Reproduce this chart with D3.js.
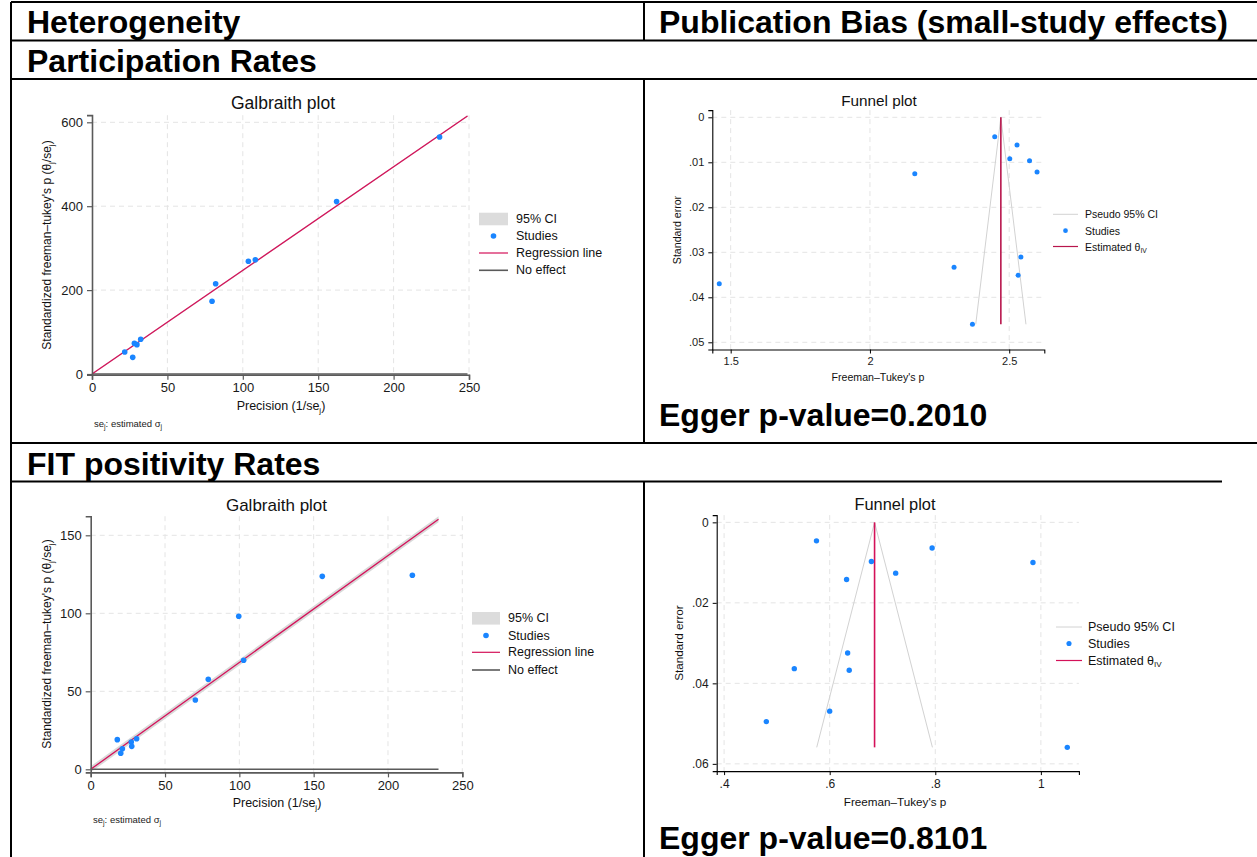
<!DOCTYPE html>
<html><head><meta charset="utf-8">
<script src="https://cdn.jsdelivr.net/npm/d3@7"></script>
<style>
body{margin:0;background:#fff;}
svg text{font-family:"Liberation Sans",Arial,Helvetica,sans-serif;}
</style>
</head><body>
<svg id="c" width="1257" height="857"></svg>
<script>
// ---------------- DATA ----------------
const headerLabels = ["Heterogeneity", "Publication Bias (small-study effects)"];
const sectionLabels = ["Participation Rates", "FIT positivity Rates"];
const eggerLabels = ["Egger p-value=0.2010", "Egger p-value=0.8101"];

// Participation rates – Galbraith plot (precision, standardized effect)
const partPrecision = [230.5, 162.2, 108.3, 103.7, 82.0, 79.6, 32.3, 29.8, 28.1, 27.0, 21.7];
const partStdEffect = [565.0, 411.0, 272.5, 268.6, 215.0, 173.3, 82.7, 70.0, 73.1, 39.7, 52.4];
const partSlope = 2.47;          // regression line slope (theta IV)
const partLineEnd = 249;         // precision where regression / no-effect lines stop

// Participation rates – Funnel plot (Freeman–Tukey p, standard error)
const partFT = [2.448, 2.528, 2.502, 2.573, 2.600, 2.161, 2.302, 2.542, 2.532, 1.459, 2.368];
const partSE = [0.00431, 0.00616, 0.0092, 0.00964, 0.01216, 0.01253, 0.0333, 0.03104, 0.0351, 0.0370, 0.0460];
const partThetaIV = 2.470;
const partSEmax = 0.0460;

// FIT positivity – Galbraith plot
const fitPrecision = [216.4, 155.8, 102.9, 99.6, 79.1, 70.4, 30.9, 27.3, 27.6, 21.3, 20.2, 17.9];
const fitStdEffect = [124.4, 123.7, 69.9, 98.1, 57.7, 44.4, 19.6, 17.5, 14.7, 13.2, 10.3, 19.0];
const fitSlope = 0.685;
const fitLineEnd = 234;

// FIT positivity – Funnel plot
const fitFT = [0.575, 0.794, 0.679, 0.985, 0.725, 0.632, 0.634, 0.533, 0.637, 0.60, 0.48, 1.05];
const fitSE = [0.00460, 0.00638, 0.00972, 0.00998, 0.01262, 0.01420, 0.03245, 0.03635, 0.03675, 0.0469, 0.0495, 0.0559];
const fitThetaIV = 0.685;
const fitSEmax = 0.0559;

// CI half-width (standardized units) around Galbraith regression line
const galbraithCI = 1.96;
const pseudoZ = 1.96;

// Tick values / labels
const galXTicks = [0, 50, 100, 150, 200, 250];
const partGalYTicks = [0, 200, 400, 600];
const fitGalYTicks = [0, 50, 100, 150];
const partFunXTicks = [1.5, 2, 2.5];
const partFunXLabels = ["1.5", "2", "2.5"];
const partFunYTicks = [0, 0.01, 0.02, 0.03, 0.04, 0.05];
const partFunYLabels = ["0", ".01", ".02", ".03", ".04", ".05"];
const fitFunXTicks = [0.4, 0.6, 0.8, 1];
const fitFunXLabels = [".4", ".6", ".8", "1"];
const fitFunYTicks = [0, 0.02, 0.04, 0.06];
const fitFunYLabels = ["0", ".02", ".04", ".06"];

const galLegendLabels = ["95% CI", "Studies", "Regression line", "No effect"];
const funLegendLabels = ["Pseudo 95% CI", "Studies", "Estimated θ"];

// ---------------- STYLE ----------------
const BLUE = "#1a85ff", RED = "#d41159", GRAY_AX = "#5a5a5a", GRID = "#e4e4e4";
const svg = d3.select("#c");
svg.append("rect").attr("width", 1257).attr("height", 857).attr("fill", "#fff");

// ---------------- TABLE ----------------
const tbl = svg.append("g").attr("stroke", "#000").attr("stroke-width", 2);
[[2, 11, 1257], [40.5, 11, 1257], [79, 11, 1257], [443, 11, 1257], [481.5, 11, 1222]].forEach(([y, a, b]) =>
  tbl.append("line").attr("x1", a).attr("x2", b).attr("y1", y).attr("y2", y));
[[11, 2, 857], [644, 2, 40.5], [644, 79, 443], [644, 481.5, 857]].forEach(([x, a, b]) =>
  tbl.append("line").attr("x1", x).attr("x2", x).attr("y1", a).attr("y2", b));

function bigText(t, x, y, size) {
  svg.append("text").attr("x", x).attr("y", y).attr("font-size", size)
    .attr("font-weight", "bold").attr("fill", "#000").text(t);
}
bigText(headerLabels[0], 27, 33, 32);
bigText(headerLabels[1], 659, 33, 32);
bigText(sectionLabels[0], 27, 72, 32);
bigText(sectionLabels[1], 27, 475, 32);
bigText(eggerLabels[0], 659, 426, 32);
bigText(eggerLabels[1], 659, 849, 32);

function subTextSafe(sel, parts, subSize) {
  let prevSub = false;
  parts.forEach(([s, sub]) => {
    const t = sel.append("tspan").text(s);
    if (sub) { t.attr("font-size", subSize); if (!prevSub) t.attr("dy", subSize * 0.45); }
    else if (prevSub) t.attr("dy", -subSize * 0.45);
    prevSub = sub;
  });
}

// ---------------- GALBRAITH ----------------
function galbraith(c) {
  const g = svg.append("g");
  const yMin = -galbraithCI, yMax = c.slope * c.lineEnd + galbraithCI;
  const x = d3.scaleLinear().domain([0, 250]).range(c.xr);
  const y = d3.scaleLinear().domain([yMin, yMax])
    .range([c.zeroPx + galbraithCI * c.ppu, c.zeroPx - yMax * c.ppu]);
  const [yb, yt] = y.range();
  // grid
  c.yTicks.filter(t => t > 0).forEach(t => g.append("line")
    .attr("x1", x(0)).attr("x2", x(250)).attr("y1", y(t)).attr("y2", y(t))
    .attr("stroke", GRID).attr("stroke-dasharray", "5,4"));
  galXTicks.filter(t => t > 0).forEach(t => g.append("line")
    .attr("x1", x(t)).attr("x2", x(t)).attr("y1", yt).attr("y2", yb)
    .attr("stroke", GRID).attr("stroke-dasharray", "5,4"));
  // CI band
  const band = [[0, -galbraithCI], [c.lineEnd, c.slope * c.lineEnd - galbraithCI],
                [c.lineEnd, c.slope * c.lineEnd + galbraithCI], [0, galbraithCI]];
  g.append("path").attr("d", d3.line().x(d => x(d[0])).y(d => y(d[1]))(band) + "Z")
    .attr("fill", "#d9d9d9");
  // no effect
  g.append("line").attr("x1", x(0)).attr("x2", x(c.lineEnd)).attr("y1", y(0)).attr("y2", y(0))
    .attr("stroke", GRAY_AX).attr("stroke-width", 1.6);
  // regression
  g.append("line").attr("x1", x(0)).attr("x2", x(c.lineEnd)).attr("y1", y(0)).attr("y2", y(c.slope * c.lineEnd))
    .attr("stroke", RED).attr("stroke-width", 1.3);
  // points
  g.selectAll("circle.pt").data(c.px.map((v, i) => [v, c.py[i]])).enter().append("circle")
    .attr("cx", d => x(d[0])).attr("cy", d => y(d[1])).attr("r", 2.8).attr("fill", BLUE);
  // axes
  const ax = g.append("g").attr("transform", `translate(0,${yb})`)
    .call(d3.axisBottom(x).tickValues(galXTicks).tickSizeOuter(0).tickSize(5).tickPadding(3));
  const ay = g.append("g").attr("transform", `translate(${x(0)},0)`)
    .call(d3.axisLeft(y).tickValues(c.yTicks).tickSizeOuter(0).tickSize(5).tickPadding(4));
  [ax, ay].forEach(a => {
    a.select(".domain").attr("stroke", GRAY_AX).attr("stroke-width", 1.6);
    a.selectAll(".tick line").attr("stroke", GRAY_AX).attr("stroke-width", 1.2);
    a.selectAll("text").attr("font-size", 13).attr("fill", "#1a1a1a")
      .attr("font-family", '"Liberation Sans",Arial,sans-serif');
  });
  // title
  g.append("text").attr("x", c.title[0]).attr("y", c.title[1]).attr("text-anchor", "middle")
    .attr("dominant-baseline", "central").attr("font-size", c.titleSize).attr("fill", "#111").text("Galbraith plot");
  // x label
  const xl = g.append("text").attr("x", c.xlab[0]).attr("y", c.xlab[1]).attr("text-anchor", "middle")
    .attr("dominant-baseline", "central").attr("font-size", 12.5).attr("fill", "#111");
  subTextSafe(xl, [["Precision (1/se", false], ["j", true], [")", false]], 8);
  // y label
  const yl = g.append("text").attr("transform", `translate(${c.ylab[0]},${c.ylab[1]}) rotate(-90)`)
    .attr("text-anchor", "middle").attr("dominant-baseline", "central").attr("font-size", 12).attr("fill", "#111");
  subTextSafe(yl, [["Standardized freeman–tukey's p (θ", false], ["j", true], ["/se", false], ["j", true], [")", false]], 8);
  // note
  const nt = g.append("text").attr("x", c.note[0]).attr("y", c.note[1])
    .attr("dominant-baseline", "central").attr("font-size", 9.5).attr("fill", "#222");
  subTextSafe(nt, [["se", false], ["j", true], [": estimated σ", false], ["j", true]], 7);
  // legend
  const L = c.leg;
  g.append("rect").attr("x", L.kx).attr("y", L.rows[0] - 6.3).attr("width", L.kw).attr("height", 12.6).attr("fill", "#dcdcdc");
  g.append("circle").attr("cx", L.kx + L.kw / 2).attr("cy", L.rows[1]).attr("r", 2.8).attr("fill", BLUE);
  g.append("line").attr("x1", L.kx).attr("x2", L.kx + L.kw).attr("y1", L.rows[2]).attr("y2", L.rows[2]).attr("stroke", RED).attr("stroke-width", 1.2);
  g.append("line").attr("x1", L.kx).attr("x2", L.kx + L.kw).attr("y1", L.rows[3]).attr("y2", L.rows[3]).attr("stroke", GRAY_AX).attr("stroke-width", 1.6);
  galLegendLabels.forEach((t, i) => g.append("text").attr("x", L.tx).attr("y", L.rows[i])
    .attr("dominant-baseline", "central").attr("font-size", 12.5).attr("fill", "#111").text(t));
}

galbraith({
  px: partPrecision, py: partStdEffect, slope: partSlope, lineEnd: partLineEnd,
  xr: [92, 469], zeroPx: 374, ppu: 0.4195, yTicks: partGalYTicks,
  title: [283, 103], titleSize: 17.5, xlab: [281, 406], ylab: [47, 245], note: [94, 423],
  leg: { kx: 479, kw: 29, tx: 516, rows: [219, 236, 253, 270.3] }
});
galbraith({
  px: fitPrecision, py: fitStdEffect, slope: fitSlope, lineEnd: fitLineEnd,
  xr: [90.7, 462.3], zeroPx: 769.3, ppu: 1.56, yTicks: fitGalYTicks,
  title: [276.5, 505], titleSize: 17, xlab: [277, 803], ylab: [47, 644], note: [93, 818.5],
  leg: { kx: 472, kw: 28, tx: 508, rows: [618.3, 635.5, 652.3, 670] }
});

// ---------------- FUNNEL ----------------
function funnel(c) {
  const g = svg.append("g");
  const x = d3.scaleLinear().domain(c.xd).range(c.xr);
  const y = d3.scaleLinear().domain(c.yd).range(c.yr);
  const [x0, x1] = c.xr, [yt, yb] = c.yr;
  // grid
  c.yTicks.forEach(t => g.append("line").attr("x1", x0).attr("x2", x1).attr("y1", y(t)).attr("y2", y(t))
    .attr("stroke", GRID).attr("stroke-dasharray", "5,4"));
  c.xTicks.forEach(t => g.append("line").attr("x1", x(t)).attr("x2", x(t)).attr("y1", yt).attr("y2", yb)
    .attr("stroke", GRID).attr("stroke-dasharray", "5,4"));
  // pseudo CI
  const tri = [[c.theta - pseudoZ * c.seMax, c.seMax], [c.theta, 0], [c.theta + pseudoZ * c.seMax, c.seMax]];
  g.append("path").attr("d", d3.line().x(d => x(d[0])).y(d => y(d[1]))(tri))
    .attr("fill", "none").attr("stroke", "#d2d2d2").attr("stroke-width", 1);
  // estimated theta
  g.append("line").attr("x1", x(c.theta)).attr("x2", x(c.theta)).attr("y1", y(0)).attr("y2", y(c.seMax))
    .attr("stroke", c.lineColor).attr("stroke-width", 1.6);
  // points
  g.selectAll("circle.pt").data(c.fx.map((v, i) => [v, c.fy[i]])).enter().append("circle")
    .attr("cx", d => x(d[0])).attr("cy", d => y(d[1])).attr("r", c.r).attr("fill", BLUE);
  // axes
  const ax = g.append("g").attr("transform", `translate(0,${yb})`)
    .call(d3.axisBottom(x).tickValues(c.xTicks).tickFormat((d, i) => c.xLabels[i]).tickSizeOuter(0).tickSize(4).tickPadding(4));
  const ay = g.append("g").attr("transform", `translate(${x0},0)`)
    .call(d3.axisLeft(y).tickValues(c.yTicks).tickFormat((d, i) => c.yLabels[i]).tickSizeOuter(0).tickSize(4).tickPadding(4));
  [ax, ay].forEach(a => {
    a.select(".domain").attr("stroke", "#000").attr("stroke-width", 1.1);
    a.selectAll(".tick line").attr("stroke", "#000");
    a.selectAll("text").attr("font-size", c.tickSize).attr("fill", "#1a1a1a")
      .attr("font-family", '"Liberation Sans",Arial,sans-serif');
  });
  g.append("text").attr("x", c.title[0]).attr("y", c.title[1]).attr("text-anchor", "middle")
    .attr("dominant-baseline", "central").attr("font-size", c.titleSize).attr("fill", "#111").text("Funnel plot");
  g.append("text").attr("x", c.xlab[0]).attr("y", c.xlab[1]).attr("text-anchor", "middle")
    .attr("dominant-baseline", "central").attr("font-size", c.labSize).attr("fill", "#111").text("Freeman–Tukey's p");
  g.append("text").attr("transform", `translate(${c.ylab[0]},${c.ylab[1]}) rotate(-90)`)
    .attr("text-anchor", "middle").attr("dominant-baseline", "central").attr("font-size", c.labSize)
    .attr("fill", "#111").text("Standard error");
  // legend
  const L = c.leg;
  g.append("line").attr("x1", L.kx).attr("x2", L.kx + L.kw).attr("y1", L.rows[0]).attr("y2", L.rows[0]).attr("stroke", "#d2d2d2");
  g.append("circle").attr("cx", L.kx + L.kw / 2).attr("cy", L.rows[1]).attr("r", c.r * 0.95).attr("fill", BLUE);
  g.append("line").attr("x1", L.kx).attr("x2", L.kx + L.kw).attr("y1", L.rows[2]).attr("y2", L.rows[2]).attr("stroke", c.lineColor).attr("stroke-width", 1.2);
  funLegendLabels.forEach((t, i) => {
    const tx = g.append("text").attr("x", L.tx).attr("y", L.rows[i]).attr("dominant-baseline", "central")
      .attr("font-size", L.fs).attr("fill", "#111");
    if (i === 2) subTextSafe(tx, [[t, false], ["IV", true]], L.fs * 0.65);
    else tx.text(t);
  });
}

funnel({
  fx: partFT, fy: partSE, theta: partThetaIV, seMax: partSEmax, lineColor: "#b8164d",
  xd: [1.434, 2.626], xr: [712.3, 1044.3], yd: [-0.0016, 0.0516], yr: [110.1, 349.5],
  xTicks: partFunXTicks, xLabels: partFunXLabels, yTicks: partFunYTicks, yLabels: partFunYLabels,
  r: 2.5, tickSize: 11, labSize: 10.6, title: [879, 100], titleSize: 15.3,
  xlab: [878, 377], ylab: [677, 230],
  leg: { kx: 1053, kw: 25, tx: 1085, rows: [214.3, 230.7, 246.5], fs: 10.5 }
});
funnel({
  fx: fitFT, fy: fitSE, theta: fitThetaIV, seMax: fitSEmax, lineColor: RED,
  xd: [0.386, 1.072], xr: [716.7, 1078.9], yd: [-0.0018, 0.0618], yr: [515.1, 771.1],
  xTicks: fitFunXTicks, xLabels: fitFunXLabels, yTicks: fitFunYTicks, yLabels: fitFunYLabels,
  r: 2.7, tickSize: 12, labSize: 11.7, title: [895, 503.5], titleSize: 16.4,
  xlab: [895, 801], ylab: [678, 643],
  leg: { kx: 1056, kw: 26, tx: 1088, rows: [627, 643.5, 660.5], fs: 12.5 }
});
</script>
</body></html>
